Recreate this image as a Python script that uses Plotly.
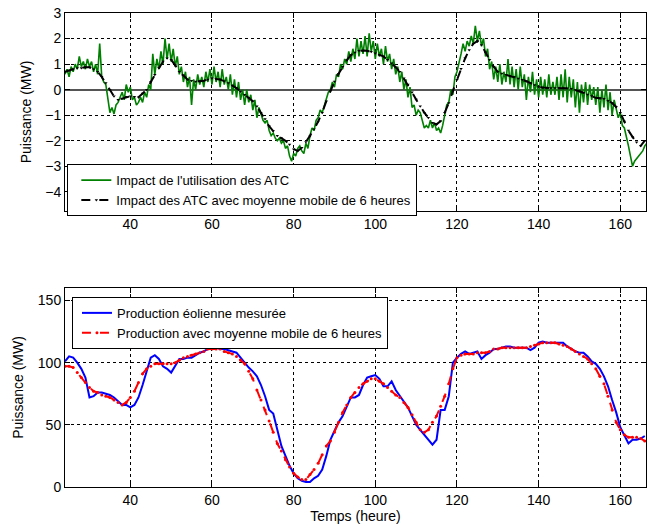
import plotly.graph_objects as go

# ---------------- data ----------------
hours = list(range(24, 167))                       # hourly axis 24..166
half_hours = [24 + 0.5 * i for i in range(286)]    # 24..166.5 step 0.5

atc_impact = [
    0.6, 0.8, 0.5, 0.9, 0.7, 1.0, 0.8, 1.3, 0.9, 1.1, 0.8, 1.2, 0.9, 1.1, 0.7, 1.0, 0.6, 1.8, 0.5, 0.3,
    0.2, -0.3, -0.9, -0.7, -0.95, -0.6, -0.5, -0.3, -0.1, -0.4, 0.2, -0.1, 0.1, -0.4, -0.3, -0.6, -0.5, -0.3, -0.5, -0.1,
    -0.3, 0.2, 0.0, 1.4, 0.6, 1.2, 0.8, 1.5, 1.0, 2.0, 1.2, 1.8, 1.1, 1.6, 0.9, 1.3, 0.6, 0.9, 0.3, 0.7,
    0.1, 0.5, -0.6, 0.4, 0.0, 0.6, 0.2, 0.5, 0.1, 0.7, 0.3, 0.8, 0.2, 0.9, 0.3, 0.7, 0.1, 0.8, 0.2, 0.5,
    0.0, 0.6, -0.2, 0.4, -0.3, 0.3, -0.4, 0.0, -0.6, 0.0, -0.5, -0.2, -0.8, -0.4, -1.1, -0.7, -1.0, -1.2, -1.3, -1.2,
    -1.6, -1.8, -1.7, -1.9, -2.0, -1.9, -2.1, -2.0, -2.3, -2.2, -2.6, -2.8, -2.5, -2.6, -2.3, -2.2, -2.4, -2.5, -2.1, -2.3,
    -1.8, -1.5, -1.6, -1.2, -1.1, -0.8, -0.9, -0.6, -0.4, -0.1, 0.0, 0.3, 0.1, 0.6, 0.5, 1.0, 0.8, 1.2, 1.0, 1.5,
    1.1, 1.6, 1.2, 2.0, 1.3, 1.9, 1.4, 2.1, 1.3, 2.2, 1.5, 1.9, 1.2, 1.8, 1.3, 1.6, 1.0, 1.7, 1.1, 1.4,
    0.8, 1.2, 0.6, 0.9, 0.3, 0.7, 0.0, 0.4, -0.3, 0.1, -0.7, -0.6, -1.0, -0.8, -0.9, -1.2, -1.5, -1.4, -1.5, -1.2,
    -1.5, -1.3, -1.6, -1.5, -1.7, -1.4, -1.0, -0.6, -0.5, 0.0, -0.2, 0.5, 0.7, 1.0, 1.4, 1.8, 1.5, 1.9, 1.7, 2.1,
    1.8, 2.5, 1.9, 2.3, 1.7, 2.0, 1.3, 1.6, 0.8, 1.1, 0.4, 0.9, 0.3, 1.0, 0.2, 0.7, 0.3, 1.2, 0.2, 0.9,
    0.1, 0.8, 0.0, 0.9, 0.1, 0.6, -0.4, 0.5, -0.1, 0.7, -0.2, 0.4, -0.3, 0.5, -0.2, 0.4, -0.3, 0.6, -0.2, 0.3,
    -0.2, 0.5, -0.4, 0.6, -0.3, 0.8, -0.5, 0.5, -0.3, 0.4, -0.7, 0.3, -0.9, 0.2, -0.5, 0.3, -0.6, 0.2, -0.4, 0.1,
    -0.6, 0.1, -0.9, 0.0, -0.7, 0.2, -0.8, -0.1, -1.0, -0.4, -0.8, -1.1, -0.9, -1.4, -1.5, -1.8, -2.2, -2.6, -3.0, -2.8,
    -2.7, -2.6, -2.5, -2.4, -2.2, -2.1,
]

atc_avg = [
    0.70, 0.75, 0.80, 0.85, 0.85, 0.88, 0.88, 0.80, 0.70, 0.50, 0.26, 0.00, -0.26, -0.40, -0.35, -0.28, -0.26, -0.28, -0.30, -0.15,
    0.00, 0.30, 0.58, 0.85, 1.10, 1.23, 1.17, 0.95, 0.70, 0.55, 0.40, 0.35, 0.32, 0.33, 0.35, 0.40, 0.45, 0.42, 0.40, 0.33,
    0.26, 0.16, 0.06, -0.07, -0.20, -0.32, -0.45, -0.65, -0.90, -1.15, -1.43, -1.62, -1.80, -1.90, -2.00, -2.15, -2.33, -2.40, -2.27, -2.05,
    -1.82, -1.55, -1.25, -0.90, -0.45, -0.05, 0.32, 0.62, 0.90, 1.15, 1.35, 1.45, 1.52, 1.53, 1.52, 1.48, 1.42, 1.36, 1.30, 1.17,
    1.03, 0.88, 0.70, 0.45, 0.20, -0.10, -0.39, -0.65, -0.90, -1.10, -1.30, -1.36, -1.23, -0.90, -0.52, -0.05, 0.39, 0.82, 1.23, 1.55,
    1.80, 1.90, 1.75, 1.45, 1.17, 0.90, 0.70, 0.63, 0.58, 0.53, 0.49, 0.44, 0.39, 0.33, 0.26, 0.18, 0.10, 0.08, 0.06, 0.06,
    0.06, 0.06, 0.06, 0.05, 0.03, -0.01, -0.06, -0.12, -0.19, -0.25, -0.32, -0.34, -0.36, -0.43, -0.52, -0.68, -0.90, -1.25, -1.60, -1.85,
    -2.06, -2.20, -2.00,
]

wind_measured = [
    101, 105, 104, 100, 95, 88, 72, 73, 76, 76, 75, 74, 72, 69, 66, 66, 64, 66, 72, 82,
    93, 104, 106, 103, 97, 95, 92, 97, 103, 103, 104, 104, 106, 108, 109, 111, 112, 112, 111, 111,
    110, 109, 108, 104, 100, 96, 93, 89, 82, 73, 62, 59, 46, 33, 25, 17, 11, 7, 5, 4,
    4, 7, 9, 14, 25, 38, 45, 52, 57, 65, 72, 72, 74, 82, 88, 89, 90, 87, 81, 81,
    85, 78, 73, 68, 64, 57, 50, 46, 42, 38, 34, 38, 62, 62, 73, 100, 104, 107, 109, 107,
    108, 109, 103, 106, 108, 111, 111, 112, 113, 113, 112, 112, 112, 112, 110, 112, 116, 117, 116, 116,
    116, 116, 116, 113, 111, 109, 108, 108, 105, 101, 99, 95, 89, 81, 70, 60, 48, 41, 35, 38,
    38, 39, 41,
]

wind_avg = [
    97, 97, 96, 92, 88, 84, 80, 77, 76, 74, 73, 72, 70, 68, 66, 68, 72, 77, 84, 91,
    95, 97, 99, 99, 99, 99, 99, 100, 102, 104, 105, 106, 107, 108, 109, 111, 111, 111, 111, 109,
    108, 107, 105, 102, 99, 93, 87, 78, 70, 62, 53, 44, 35, 29, 22, 16, 11, 8, 6, 6,
    10, 14, 19, 26, 33, 37, 44, 52, 60, 66, 72, 76, 80, 83, 85, 87, 87, 85, 83, 80,
    77, 74, 72, 68, 64, 58, 52, 46, 44, 46, 52, 57, 65, 73, 83, 95, 104, 106, 107, 107,
    107, 108, 108, 108, 109, 111, 111, 112, 112, 112, 112, 112, 112, 112, 113, 114, 115, 116, 116, 116,
    116, 115, 114, 113, 111, 109, 107, 105, 103, 99, 95, 89, 83, 73, 62, 52, 46, 42, 40, 40,
    40, 39, 37,
]

x_ticks = [40, 60, 80, 100, 120, 140, 160]
y1_ticks = [3, 2, 1, 0, -1, -2, -3, -4]
y2_ticks = [0, 50, 100, 150]

# ---------------- figure ----------------
FONT = "Liberation Sans, Arial, sans-serif"
fig = go.Figure()

fig.add_trace(go.Scatter(
    x=half_hours, y=atc_impact, mode="lines",
    line=dict(color="#008000", width=1.6),
    name="Impact de l'utilisation des ATC",
    xaxis="x", yaxis="y", legend="legend",
))
fig.add_trace(go.Scatter(
    x=hours, y=atc_avg, mode="lines+markers",
    line=dict(color="black", width=2, dash="dash"),
    marker=dict(symbol="triangle-down", size=3, color="black"),
    name="Impact des ATC avec moyenne mobile de 6 heures",
    xaxis="x", yaxis="y", legend="legend",
))
fig.add_trace(go.Scatter(
    x=hours, y=wind_measured, mode="lines",
    line=dict(color="#0000FF", width=2),
    name="Production éolienne mesurée",
    xaxis="x2", yaxis="y2", legend="legend2",
))
fig.add_trace(go.Scatter(
    x=hours, y=wind_avg, mode="lines+markers",
    line=dict(color="#FF0000", width=2, dash="dash"),
    marker=dict(symbol="circle", size=3, color="#FF0000"),
    name="Production avec moyenne mobile de 6 heures",
    xaxis="x2", yaxis="y2", legend="legend2",
))

axis_common = dict(
    showline=True, linecolor="black", linewidth=1, mirror="ticks",
    ticks="inside", ticklen=5, tickcolor="black",
    showgrid=True, gridcolor="black", gridwidth=1, griddash="3px,3px",
    tickfont=dict(family=FONT, size=14, color="black"),
    zeroline=False, ticklabeloverflow="allow",
)

fig.update_layout(
    width=647, height=531,
    margin=dict(l=65, r=1, t=13, b=44),
    paper_bgcolor="white", plot_bgcolor="white",
    font=dict(family=FONT, color="black"),
    showlegend=True,
    xaxis=dict(axis_common, domain=[0, 1], range=[24, 166.3], tickvals=x_ticks, anchor="y"),
    yaxis=dict(axis_common, domain=[0.5823, 1], range=[-4.75, 3], tickvals=y1_ticks, anchor="x",
               zeroline=True, zerolinecolor="#555555", zerolinewidth=1.5,
               title=dict(text="Puissance (MW)", font=dict(family=FONT, size=14), standoff=10)),
    xaxis2=dict(axis_common, domain=[0, 1], range=[24, 166.3], tickvals=x_ticks, anchor="y2",
                title=dict(text="Temps (heure)", font=dict(family=FONT, size=14), standoff=2)),
    yaxis2=dict(axis_common, domain=[0, 0.4198], range=[0, 160], tickvals=y2_ticks, anchor="x2",
                title=dict(text="Puissance (MW)", font=dict(family=FONT, size=14), standoff=10)),
    legend=dict(x=0.004, y=0.681, xanchor="left", yanchor="top",
                bgcolor="white", bordercolor="black", borderwidth=1,
                font=dict(family=FONT, size=13, color="black"),
                tracegroupgap=0, itemwidth=30, indentation=8),
    legend2=dict(x=0.012, y=0.401, xanchor="left", yanchor="top",
                 bgcolor="white", bordercolor="black", borderwidth=1,
                 font=dict(family=FONT, size=13, color="black"),
                 tracegroupgap=0, itemwidth=30, indentation=4),
)

fig.write_html(
    "out.html",
    config={"displayModeBar": False},
    post_script=(
        "document.body.style.margin='0';"
        "document.body.style.overflow='hidden';"
        "document.documentElement.style.overflow='hidden';"
    ),
)
